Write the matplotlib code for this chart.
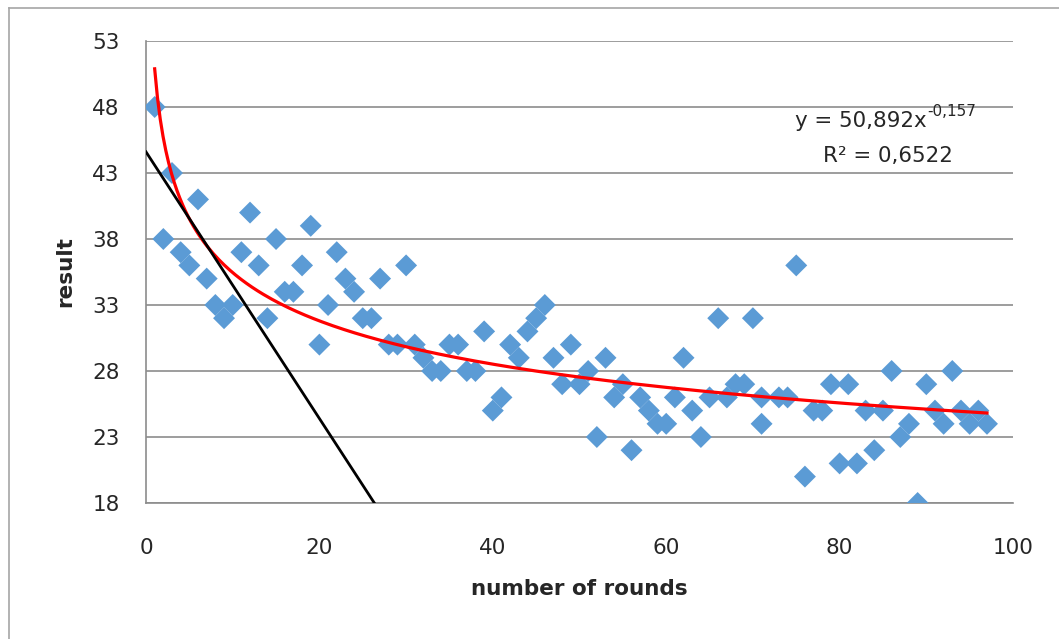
import matplotlib
matplotlib.use("Agg")
import matplotlib.pyplot as plt
from matplotlib.lines import Line2D
import numpy as np

# rounds / result
rounds = [1, 2, 3, 4, 5, 6, 7, 8, 9, 10,
          11, 12, 13, 14, 15, 16, 17, 18, 19, 20,
          21, 22, 23, 24, 25, 26, 27, 28, 29, 30,
          31, 32, 33, 34, 35, 36, 37, 38, 39, 40,
          41, 42, 43, 44, 45, 46, 47, 48, 49, 50,
          51, 52, 53, 54, 55, 56, 57, 58, 59, 60,
          61, 62, 63, 64, 65, 66, 67, 68, 69, 70,
          71, 71, 73, 74, 75, 76, 77, 78, 79, 80,
          81, 82, 83, 84, 85, 86, 87, 88, 89, 90,
          91, 92, 93, 94, 95, 96, 97]
results = [48, 38, 43, 37, 36, 41, 35, 33, 32, 33,
           37, 40, 36, 32, 38, 34, 34, 36, 39, 30,
           33, 37, 35, 34, 32, 32, 35, 30, 30, 36,
           30, 29, 28, 28, 30, 30, 28, 28, 31, 25,
           26, 30, 29, 31, 32, 33, 29, 27, 30, 27,
           28, 23, 29, 26, 27, 22, 26, 25, 24, 24,
           26, 29, 25, 23, 26, 32, 26, 27, 27, 32,
           26, 24, 26, 26, 36, 20, 25, 25, 27, 21,
           27, 21, 25, 22, 25, 28, 23, 24, 18, 27,
           25, 24, 28, 25, 24, 25, 24]

# power trendline y = a * x^b
fit_a = 50.892
fit_b = -0.157
r_squared = "0,6522"

# straight black line (tangent at the start)
line_intercept = 44.6
line_slope = -1.01

x_ticks = [0, 20, 40, 60, 80, 100]
y_ticks = [18, 23, 28, 33, 38, 43, 48, 53]

plt.rcParams['font.family'] = ['DejaVu Sans']

grey = '#8c8c8c'
txt = '#262626'
fig = plt.figure(figsize=(10.59, 6.39), dpi=100)
ax = fig.add_axes([146 / 1059, 1 - 503 / 639, 867 / 1059, 462 / 639])

# outer chart frame (top and left edges only are visible)
fig.add_artist(Line2D([9 / 1059, 9 / 1059], [0, 1 - 8 / 639], color='#a6a6a6', lw=1.2))
fig.add_artist(Line2D([9 / 1059, 1], [1 - 8 / 639, 1 - 8 / 639], color='#a6a6a6', lw=1.2))

ax.scatter(rounds, results, marker='D', s=125, color='#5b9bd5', edgecolors='none', zorder=3)

xf = np.linspace(1, max(rounds), 300)
ax.plot(xf, fit_a * xf ** fit_b, color='#ff0000', lw=2.3, zorder=4)

x_end = (y_ticks[0] - line_intercept) / line_slope
xl = np.array([0, x_end])
ax.plot(xl, line_intercept + line_slope * xl, color='black', lw=2, zorder=4)

ax.set_xlim(0, 100)
ax.set_ylim(18, 53)
ax.set_xticks(x_ticks)
ax.set_yticks(y_ticks)
ax.tick_params(axis='both', length=0, labelsize=15.5, colors=txt)
ax.tick_params(axis='y', pad=19)
ax.tick_params(axis='x', pad=25)
ax.yaxis.grid(True, color=grey, lw=1.2)
ax.set_axisbelow(True)
for s in ['top', 'right']:
    ax.spines[s].set_visible(False)
for s in ['left', 'bottom']:
    ax.spines[s].set_color(grey)
    ax.spines[s].set_linewidth(1.2)

ax.set_xlabel('number of rounds', fontsize=15.5, fontweight='bold', labelpad=15, color=txt)
ax.set_ylabel('result', fontsize=15.5, fontweight='bold', labelpad=12, color=txt)

t1 = ax.text(74.9, 46.5, 'y = 50,892x', fontsize=15.4, va='baseline', ha='left', color=txt)
ax.annotate('-0,157', xy=(1.0, 0.6), xycoords=t1, fontsize=11, va='bottom', ha='left', color=txt)
ax.text(78.1, 43.8, 'R\u00b2 = ' + r_squared, fontsize=15.4, va='baseline', ha='left', color=txt)

fig.savefig('out.png', dpi=100)
